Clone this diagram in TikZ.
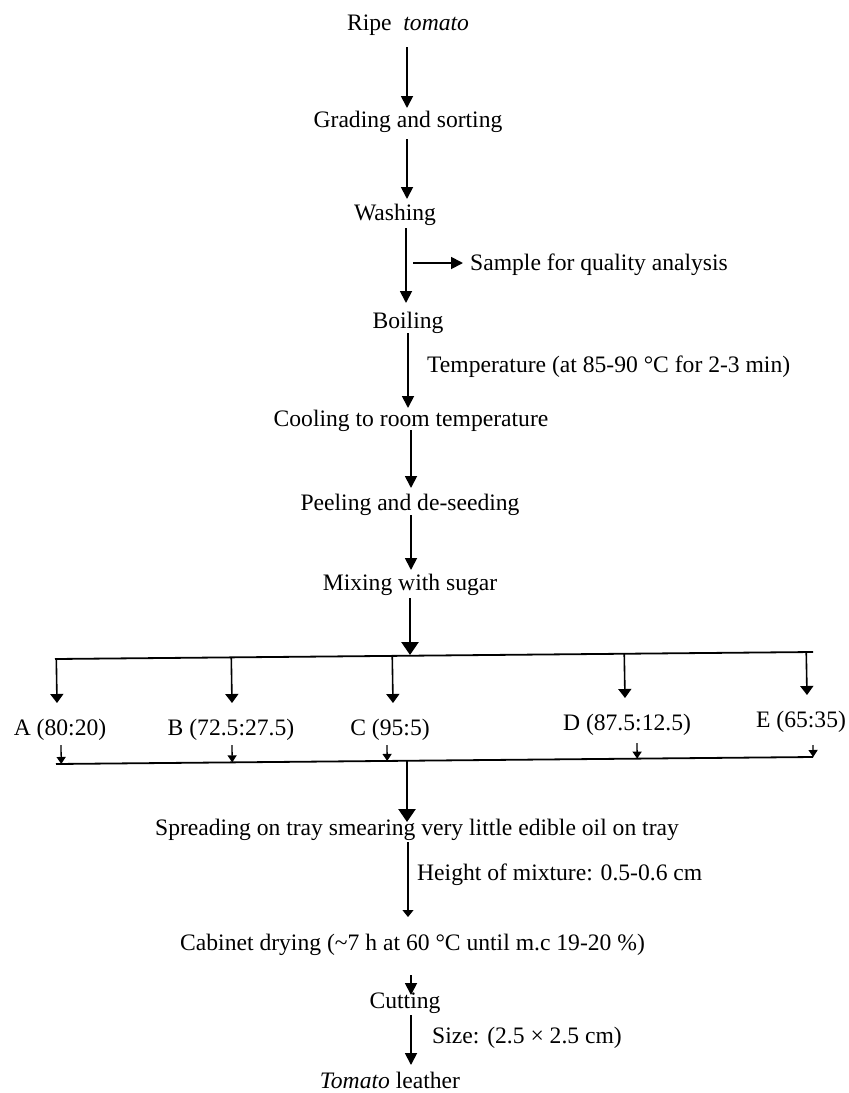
\documentclass[tikz,border=0pt]{standalone}
\usepackage{fontspec}
\setmainfont{Liberation Serif}
\usepackage{tikz}
\usetikzlibrary{positioning, arrows.meta, calc}

\begin{document}
\begin{tikzpicture}[x=1pt, y=-1pt,
    stage/.style={font=\fontsize{23.6}{28}\selectfont, inner sep=0pt, anchor=base},
    flow/.style={-{Triangle[length=12pt, width=12pt]}, line width=1.8pt},
    bigflow/.style={-{Triangle[length=13pt, width=17pt]}, line width=2.6pt},
    branch/.style={-{Triangle[length=9pt, width=13pt]}, line width=1.6pt},
    feed/.style={-{Triangle[length=7pt, width=9pt]}, line width=1.3pt},
    slim/.style={-{Triangle[length=7pt, width=11pt]}, line width=1.1pt},
    rail/.style={line width=1.8pt}]
  \useasboundingbox (0,0) rectangle (849,1093);
  % process steps
  \node[stage] (ripe) at (408,30) {Ripe\hspace{0.5em}\textit{tomato}};
  \node[stage] (grade) at (408,127) {Grading and sorting};
  \node[stage] (wash) at (395,220) {Washing};
  \node[stage, anchor=base west] (sample) at (470,270) {Sample for quality analysis};
  \node[stage] (boil) at (408,328) {Boiling};
  \node[stage, anchor=base west] (temp) at (427,372) {Temperature (at 85-90 °C for 2-3 min)};
  \node[stage] (cool) at (411,426) {Cooling to room temperature};
  \node[stage] (peel) at (410,510) {Peeling and de-seeding};
  \node[stage] (mix) at (410,590) {Mixing with sugar};
  % ratios
  \node[stage] (ra) at (60,735) {A (80:20)};
  \node[stage] (rb) at (231,735) {B (72.5:27.5)};
  \node[stage] (rc) at (390,735) {C (95:5)};
  \node[stage] (rd) at (627,730) {D (87.5:12.5)};
  \node[stage] (re) at (801,727) {E (65:35)};
  % after mixing
  \node[stage, anchor=base west] (spread) at (155,835) {Spreading on tray smearing very little edible oil on tray};
  \node[stage, anchor=base west] (height) at (417,880) {Height of mixture: 0.5-0.6 cm};
  \node[stage, anchor=base west] (cab) at (180,950) {Cabinet drying (\textasciitilde7 h at 60 °C until m.c 19-20 \%)};
  \node[stage] (cut) at (405,1008) {Cutting};
  \node[stage, anchor=base west] (size) at (432,1043) {Size: (2.5 × 2.5 cm)};
  \node[stage] (leather) at (390,1088) {\textit{Tomato} leather};
  % bars
  \coordinate (topL) at (55,659);
  \coordinate (topR) at (813,652);
  \coordinate (botL) at (56,764);
  \coordinate (botR) at (813,757);
  \coordinate (split) at (410,655);
  \coordinate (join) at (407,761);
  \draw[rail] (topL) -- (topR);
  \draw[rail] (botL) -- (botR);
  % main line
  \draw[flow] ([xshift=-1pt,yshift=-17pt]ripe.base) -- ([xshift=-1pt,yshift=19pt]grade.base);
  \draw[flow] ([xshift=-1pt,yshift=-12pt]grade.base) -- ([xshift=12pt,yshift=21pt]wash.base);
  \draw[flow] ([xshift=11pt,yshift=-8pt]wash.base) -- ([xshift=-2pt,yshift=25pt]boil.base);
  \draw[flow] ([xshift=-57pt,yshift=7pt]sample.base west) -- ([xshift=-7pt,yshift=7pt]sample.base west);
  \draw[flow] ([yshift=-5pt]boil.base) -- ([xshift=-3pt,yshift=18pt]cool.base);
  \draw[flow] ([yshift=-4pt]cool.base) -- ([xshift=1pt,yshift=22pt]peel.base);
  \draw[flow] ([xshift=1pt,yshift=-5pt]peel.base) -- ([xshift=1pt,yshift=20pt]mix.base);
  \draw[bigflow] ([yshift=-8pt]mix.base) -- (split);
  % branches and returns
  \foreach \r/\up/\dn/\st in {ra/-3/1/10, rb/1/1/10, rc/3/-3/10, rd/-2/10/13, re/6/12/18} {
    \draw[branch] ($(topL)!([xshift=\up pt]\r.base)!(topR)$) -- ([xshift=\up pt,yshift=32pt]\r.base);
    \draw[feed] ([xshift=\dn pt,yshift=-\st pt]\r.base) -- ($(botL)!([xshift=\dn pt]\r.base)!(botR)$);
  }
  \draw[bigflow] (join) -- ([xshift=252pt,yshift=13pt]spread.base west);
  \draw[slim] ([xshift=253pt,yshift=-7pt]spread.base west) -- ([xshift=228pt,yshift=33pt]cab.base west);
  \draw[flow] ([xshift=231pt,yshift=-25pt]cab.base west) -- ([xshift=6pt,yshift=13pt]cut.base);
  \draw[flow] ([xshift=6pt,yshift=-7pt]cut.base) -- ([xshift=21pt,yshift=23pt]leather.base);
\end{tikzpicture}
\end{document}
